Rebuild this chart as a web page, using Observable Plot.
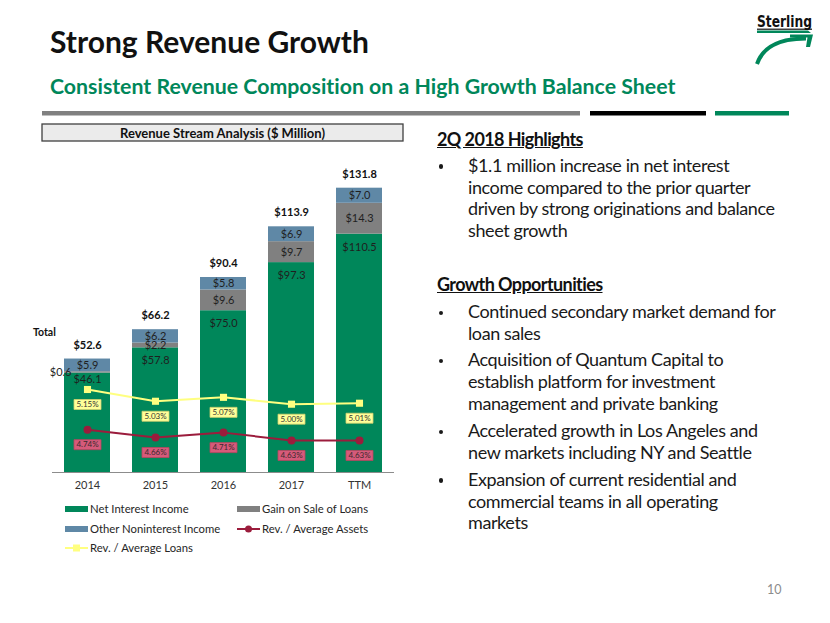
<!DOCTYPE html>
<html><head><meta charset="utf-8">
<script src="https://cdn.jsdelivr.net/npm/d3@7"></script>
<script src="https://cdn.jsdelivr.net/npm/@observablehq/plot@0.6"></script>
<style>
body{margin:0;background:#fff;}
#slide{position:relative;width:830px;height:623px;overflow:hidden;font-family:Lato,"Open Sans",sans-serif;background:#fff;color:#1a1a1a;font-variant-ligatures:none;}
.abs{position:absolute;white-space:nowrap;line-height:1;}
.para{position:absolute;white-space:nowrap;font-size:18px;line-height:21.8px;letter-spacing:-0.4px;}
.dotb{position:absolute;width:4.6px;height:4.6px;border-radius:50%;background:#1a1a1a;}
.lg{position:absolute;font-size:11.3px;color:#262626;white-space:nowrap;line-height:1;}
.plotbox{position:absolute;left:30px;top:150px;}
</style></head><body><div id="slide">
<svg class="abs" style="left:0;top:0" width="830" height="623">
  <rect x="42" y="111" width="538" height="4.5" fill="#808080"/>
  <rect x="590" y="111" width="116" height="4.5" fill="#000"/>
  <rect x="715" y="111" width="74" height="4.5" fill="#00875a"/>
  <rect x="42" y="124" width="361" height="17" fill="#ebebeb" stroke="#404040" stroke-width="1.3"/>
  <text x="757" y="27" font-family="'DejaVu Sans Condensed','Liberation Sans Narrow',sans-serif" font-weight="bold" font-size="16" textLength="55" lengthAdjust="spacingAndGlyphs" fill="#111">Sterling</text>
  <rect x="757" y="28.6" width="55" height="1.2" fill="#111"/>
  <path d="M757,30.5 L808,30.5 L811,33 L757,33 Z" fill="#00875a"/>
  <path d="M790,34.5 L813,34.5 L810,47 L806,47 L807.5,37.5 L790,37.5 Z" fill="#00875a"/>
  <path d="M757,64 C763,47 778,38.5 806,38.5" fill="none" stroke="#00875a" stroke-width="4"/>
</svg>
<div class="abs" style="left:50px;top:26.4px;font-size:30px;font-weight:bold;color:#111;">Strong Revenue Growth</div>
<div class="abs" style="left:50px;top:76.2px;font-size:21.3px;font-weight:bold;color:#00875a;">Consistent Revenue Composition on a High Growth Balance Sheet</div>
<div class="abs" style="left:42px;top:125.5px;width:361px;text-align:center;font-size:13px;font-weight:bold;color:#111;line-height:14px;">Revenue Stream Analysis ($ Million)</div>
<div class="abs" style="left:33px;top:326.5px;font-size:10.5px;font-weight:bold;color:#111;">Total</div>
<div id="right"></div>
<div id="legend"></div>
<div class="plotbox" id="bars"></div>
<div class="plotbox" id="lines"></div>
<div class="abs" style="left:767px;top:584px;font-size:12.5px;color:#8c8c8c;">10</div>
</div>
<script>
// ---- data ----
const years = ["2014", "2015", "2016", "2017", "TTM"];
const netInterest = [46.1, 57.8, 75.0, 97.3, 110.5];
const gainOnSale = [0.6, 2.2, 9.6, 9.7, 14.3];
const otherNonint = [5.9, 6.2, 5.8, 6.9, 7.0];
const totals = [52.6, 66.2, 90.4, 113.9, 131.8];
const revAvgAssets = [4.74, 4.66, 4.71, 4.63, 4.63];
const revAvgLoans = [5.15, 5.03, 5.07, 5.00, 5.01];
const seriesNames = ["Net Interest Income", "Gain on Sale of Loans", "Other Noninterest Income", "Rev. / Average Assets", "Rev. / Average Loans"];
const seriesColors = ["#00875a", "#808080", "#5f88a6", "#9b1c3c", "#ffff80"];
const highlightsTitle = "2Q 2018 Highlights";
const highlights = [["$1.1 million increase in net interest", "income compared to the prior quarter", "driven by strong originations and balance", "sheet growth"]];
const growthTitle = "Growth Opportunities";
const growth = [
  ["Continued secondary market demand for", "loan sales"],
  ["Acquisition of Quantum Capital to", "establish platform for investment", "management and private banking"],
  ["Accelerated growth in Los Angeles and", "new markets including NY and Seattle"],
  ["Expansion of current residential and", "commercial teams in all operating", "markets"]
];

// ---- stacked table ----
const stackSeries = [netInterest, gainOnSale, otherNonint];
const long = [];
years.forEach((yr, i) => {
  let acc = 0;
  stackSeries.forEach((arr, j) => {
    long.push({year: yr, idx: i, series: seriesNames[j], value: arr[i], y0: acc, y1: acc + arr[i], mid: acc + arr[i] / 2});
    acc += arr[i];
  });
});
const totalData = years.map((yr, i) => ({year: yr, total: totals[i]}));
const lineData = years.map((yr, i) => ({year: yr, assets: revAvgAssets[i], loans: revAvgLoans[i]}));
const fmt = v => "$" + v.toFixed(1);

const common = {
  width: 380, height: 352, marginTop: 20, marginBottom: 30, marginLeft: 22, marginRight: 16,
  style: {fontFamily: "Lato, sans-serif", fontSize: "11px", background: "transparent", color: "#333", overflow: "visible"}
};
const xOpts = {domain: years, paddingInner: 0.33, paddingOuter: 0.16, label: null, tickSize: 0, tickPadding: 9};

const bars = Plot.plot({
  ...common,
  x: xOpts,
  y: {domain: [0, 140], axis: null},
  color: {domain: seriesNames.slice(0, 3), range: seriesColors.slice(0, 3)},
  marks: [
    Plot.barY(long, {x: "year", y1: "y0", y2: "y1", fill: "series"}),
    Plot.ruleY([0], {stroke: "#8c8c8c"}),
    Plot.text(long.filter(d => d.series === seriesNames[0] && d.idx > 0), {x: "year", y: "y1", text: d => fmt(d.value), dy: 13, fill: "#1f1f1f"}),
    Plot.text(long.filter(d => d.series === seriesNames[0] && d.idx === 0), {x: "year", y: "y1", text: d => fmt(d.value), dy: 6, fill: "#1f1f1f"}),
    Plot.text(long.filter(d => d.series !== seriesNames[0] && !(d.idx === 0 && d.series === seriesNames[1])), {x: "year", y: "mid", text: d => fmt(d.value), fill: "#1f1f1f"}),
    Plot.text(long.filter(d => d.idx === 0 && d.series === seriesNames[1]), {x: "year", y: "mid", text: d => fmt(d.value), textAnchor: "end", dx: -16, fill: "#1f1f1f"}),
    Plot.text(totalData, {x: "year", y: "total", text: d => fmt(d.total), dy: -14, fontWeight: "bold", fill: "#111"})
  ]
});
document.getElementById("bars").appendChild(bars);

const boxSymbol = {draw(ctx) { ctx.rect(-13.5, -5, 27, 10); }};
const lines = Plot.plot({
  ...common,
  x: {...xOpts, axis: null},
  y: {domain: [4.303, 7.385], axis: null},
  marks: [
    Plot.lineY(lineData, {x: "year", y: "loans", stroke: seriesColors[4], strokeWidth: 2}),
    Plot.dot(lineData, {x: "year", y: "loans", symbol: "square", r: 4, fill: seriesColors[4]}),
    Plot.lineY(lineData, {x: "year", y: "assets", stroke: seriesColors[3], strokeWidth: 2}),
    Plot.dot(lineData, {x: "year", y: "assets", r: 4, fill: seriesColors[3]}),
    Plot.dot(lineData, {x: "year", y: "loans", symbol: boxSymbol, fill: "#ffff99", stroke: "#cfcf70", strokeWidth: 0.8, dy: 15}),
    Plot.text(lineData, {x: "year", y: "loans", text: d => d.loans.toFixed(2) + "%", dy: 15, fontSize: 8, fill: "#333"}),
    Plot.dot(lineData, {x: "year", y: "assets", symbol: boxSymbol, fill: "#d65a7a", stroke: "#b8455f", strokeWidth: 0.8, dy: 15}),
    Plot.text(lineData, {x: "year", y: "assets", text: d => d.assets.toFixed(2) + "%", dy: 15, fontSize: 8, fill: "#3a2a2e"})
  ]
});
document.getElementById("lines").appendChild(lines);

// ---- legend ----
const legendPos = [[65, 509], [237, 509], [65, 529], [237, 529], [65, 548]];
const lg = document.getElementById("legend");
seriesNames.forEach((name, si) => {
  const [lx, ly] = legendPos[si];
  const sw = document.createElementNS("http://www.w3.org/2000/svg", "svg");
  sw.setAttribute("width", 24); sw.setAttribute("height", 10);
  sw.style.position = "absolute"; sw.style.left = lx + "px"; sw.style.top = (ly - 5) + "px";
  if (si < 3) {
    sw.innerHTML = `<rect x="0" y="2" width="23" height="6" fill="${seriesColors[si]}"/>`;
  } else if (si === 3) {
    sw.innerHTML = `<line x1="0" y1="5" x2="23" y2="5" stroke="${seriesColors[si]}" stroke-width="2"/><circle cx="11.5" cy="5" r="3.5" fill="${seriesColors[si]}"/>`;
  } else {
    sw.innerHTML = `<line x1="0" y1="5" x2="23" y2="5" stroke="${seriesColors[si]}" stroke-width="2"/><rect x="8" y="1.5" width="7" height="7" fill="${seriesColors[si]}"/>`;
  }
  lg.appendChild(sw);
  const t = document.createElement("div");
  t.className = "lg"; t.textContent = name;
  t.style.left = (lx + 25) + "px"; t.style.top = (ly - 6) + "px";
  lg.appendChild(t);
});

// ---- right text ----
const right = document.getElementById("right");
function addHeading(text, baseline) {
  const d = document.createElement("div");
  d.className = "para"; d.style.left = "437px"; d.style.top = (baseline - 17.9) + "px";
  d.style.fontWeight = "bold"; d.style.textDecoration = "underline"; d.style.color = "#111";
  d.style.letterSpacing = "-0.6px";
  d.textContent = text; right.appendChild(d);
}
function addBullet(lines, baseline) {
  const b = document.createElement("div");
  b.className = "dotb"; b.style.left = "438.5px"; b.style.top = (baseline - 8.5) + "px";
  right.appendChild(b);
  const d = document.createElement("div");
  d.className = "para"; d.style.left = "468px"; d.style.top = (baseline - 17.9) + "px";
  d.innerHTML = lines.join("<br>"); right.appendChild(d);
}
addHeading(highlightsTitle, 146.7);
addBullet(highlights[0], 172.7);
addHeading(growthTitle, 291.7);
const growthBaselines = [319, 367, 438, 486.7];
growth.forEach((g, i) => addBullet(g, growthBaselines[i]));
</script>
</body></html>
